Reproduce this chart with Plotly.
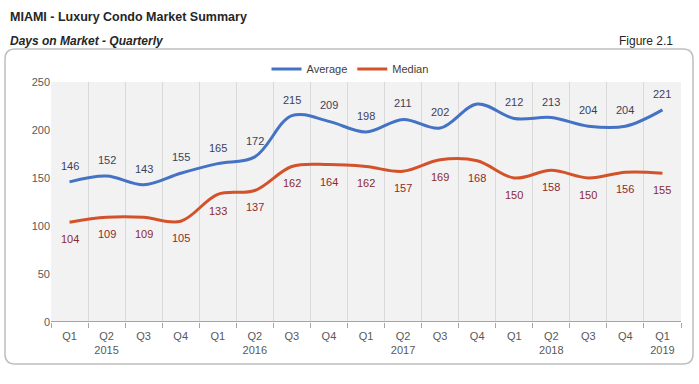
import plotly.graph_objects as go

quarters = ["Q1", "Q2", "Q3", "Q4", "Q1", "Q2", "Q3", "Q4", "Q1", "Q2", "Q3", "Q4",
            "Q1", "Q2", "Q3", "Q4", "Q1"]
year_labels = ["", "2015", "", "", "", "2016", "", "", "", "2017", "", "", "", "2018", "", "", "2019"]
average = [146, 152, 143, 155, 165, 172, 215, 209, 198, 211, 202, 227, 212, 213, 204, 204, 221]
average_labels = [146, 152, 143, 155, 165, 172, 215, 209, 198, 211, 202, None, 212, 213, 204, 204, 221]
median = [104, 109, 109, 105, 133, 137, 162, 164, 162, 157, 169, 168, 150, 158, 150, 156, 155]

x = list(range(len(quarters)))
ticktext = [q + ("<br>" + y if y else "") for q, y in zip(quarters, year_labels)]

W, H = 699, 384
L, R, T, B = 51, 18, 82, 62
pw, ph = W - L - R, H - T - B

def px(xp):
    return (xp - L) / pw

def py(yp):
    return (H - B - yp) / ph

FONT = "Liberation Sans, Arial"

fig = go.Figure()
fig.add_trace(go.Scatter(x=x, y=average, name="Average", mode="lines",
                         line=dict(color="#4472C4", width=3, shape="spline", smoothing=1.0)))
fig.add_trace(go.Scatter(x=x, y=median, name="Median", mode="lines",
                         line=dict(color="#D4522A", width=3, shape="spline", smoothing=1.0)))

for i, v in enumerate(average_labels):
    if v is None:
        continue
    fig.add_annotation(x=i, y=average[i], text=str(v), showarrow=False, yshift=16,
                       font=dict(family=FONT, size=11, color="#3B3F5C"))
for i, v in enumerate(median):
    fig.add_annotation(x=i, y=v, text=str(v), showarrow=False, yshift=-17,
                       font=dict(family=FONT, size=11, color="#8E2A2A"))

# rounded frame
x0, x1, y0, y1, r = px(5), px(693), py(364), py(49), 10
rx, ry = r / pw, r / ph
path = (f"M {x0+rx},{y1} L {x1-rx},{y1} Q {x1},{y1} {x1},{y1-ry} "
        f"L {x1},{y0+ry} Q {x1},{y0} {x1-rx},{y0} L {x0+rx},{y0} "
        f"Q {x0},{y0} {x0},{y0+ry} L {x0},{y1-ry} Q {x0},{y1} {x0+rx},{y1} Z")
fig.add_shape(type="path", path=path, xref="paper", yref="paper",
              line=dict(color="#BFBFBF", width=1.5), layer="below")

fig.add_annotation(x=px(8), y=py(17), xref="paper", yref="paper", xanchor="left", yanchor="middle",
                   text="<b>MIAMI - Luxury Condo Market Summary</b>", showarrow=False,
                   font=dict(family=FONT, size=12.5, color="#262626"))
fig.add_annotation(x=px(8), y=py(41), xref="paper", yref="paper", xanchor="left", yanchor="middle",
                   text="<b><i>Days on Market - Quarterly</i></b>", showarrow=False,
                   font=dict(family=FONT, size=12, color="#262626"))
fig.add_annotation(x=px(675), y=py(41), xref="paper", yref="paper", xanchor="right", yanchor="middle",
                   text="Figure 2.1", showarrow=False,
                   font=dict(family=FONT, size=12, color="#262626"))

fig.update_layout(
    width=W, height=H,
    margin=dict(l=L, r=R, t=T, b=B),
    paper_bgcolor="white", plot_bgcolor="#F2F2F2",
    showlegend=True,
    legend=dict(orientation="h", x=px(350), xanchor="center", y=py(69), yanchor="middle",
                font=dict(family=FONT, size=11, color="#404040"),
                bgcolor="rgba(0,0,0,0)", itemwidth=30, tracegroupgap=0),
    xaxis=dict(range=[-0.5, len(x) - 0.5], tickmode="array", tickvals=x, ticktext=ticktext,
               showgrid=False, zeroline=False, showline=False, ticks="", ticklabelstandoff=6,
               tickfont=dict(family=FONT, size=11, color="#595959"),
               minor=dict(tickmode="linear", tick0=-0.5, dtick=1, showgrid=True,
                          gridcolor="#D9D9D9", gridwidth=1, ticks="outside", ticklen=5,
                          tickcolor="#A6A6A6")),
    yaxis=dict(range=[0, 250], dtick=50, showgrid=False, zeroline=False, showline=False,
               ticks="", tickfont=dict(family=FONT, size=11, color="#595959")),
)
fig.add_shape(type="line", xref="paper", yref="y", x0=0, x1=1, y0=0, y1=0,
              line=dict(color="#A6A6A6", width=2))

fig.write_html("out.html", config={"displayModeBar": False},
               post_script="document.body.style.margin='0';document.body.style.padding='0';")
